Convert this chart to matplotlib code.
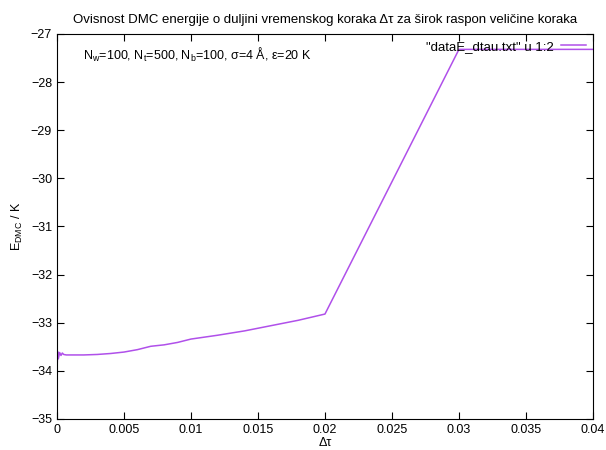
import matplotlib
matplotlib.use("Agg")
import matplotlib.pyplot as plt

plt.rcParams['font.family'] = ['Liberation Sans', 'DejaVu Sans']
plt.rcParams['mathtext.fontset'] = 'custom'
plt.rcParams['mathtext.rm'] = 'Liberation Sans'
plt.rcParams['mathtext.it'] = 'Liberation Sans'

dtau = [0.00002, 0.00005, 0.0001, 0.0002, 0.0003, 0.0004, 0.0005, 0.0007, 0.001,
        0.002, 0.003, 0.004, 0.005, 0.006, 0.007, 0.008, 0.009, 0.01, 0.012,
        0.014, 0.016, 0.018, 0.02, 0.03, 0.04]
energy = [-33.85, -33.60, -33.75, -33.62, -33.68, -33.63, -33.66, -33.67, -33.67,
          -33.67, -33.66, -33.64, -33.61, -33.56, -33.49, -33.46, -33.41, -33.34,
          -33.26, -33.17, -33.06, -32.95, -32.82, -27.32, -27.32]

xticks = [0, 0.005, 0.01, 0.015, 0.02, 0.025, 0.03, 0.035, 0.04]
xticklabels = ['0', '0.005', '0.01', '0.015', '0.02', '0.025', '0.03', '0.035', '0.04']
yticks = [-35, -34, -33, -32, -31, -30, -29, -28, -27]

fig = plt.figure(figsize=(6.06, 4.5), dpi=100)
ax = fig.add_axes([0.094, 0.069, 0.8845, 0.8555])
ax.plot(dtau, energy, color='#b050ea', lw=1.1, label='"dataE_dtau.txt" u 1:2')
ax.set_xlim(0, 0.04)
ax.set_ylim(-35, -27)
ax.set_xticks(xticks)
ax.set_xticklabels(xticklabels)
ax.set_yticks(yticks)
ax.tick_params(direction='in', top=True, right=True, labelsize=9, length=5, width=0.8)
for s in ax.spines.values():
    s.set_linewidth(0.8)
ax.set_xlabel('Δτ', fontsize=9, labelpad=1)
ax.set_ylabel('E$_{\\mathrm{DMC}}$ / K', fontsize=9, labelpad=4)
ax.set_title('Ovisnost DMC energije o duljini vremenskog koraka Δτ za širok raspon veličine koraka',
             fontsize=9.5, pad=8)
ax.text(0.049, 0.945, 'N$_\\mathrm{w}$=100, N$_\\mathrm{t}$=500, N$_\\mathrm{b}$=100, σ=4 Å, ε=20 K',
        transform=ax.transAxes, fontsize=9, va='center', ha='left')
ax.legend(loc='upper right', frameon=False, markerfirst=False, fontsize=9.5,
          handlelength=1.9, borderaxespad=0.1, handletextpad=0.6)
fig.savefig('out.png', dpi=100)
